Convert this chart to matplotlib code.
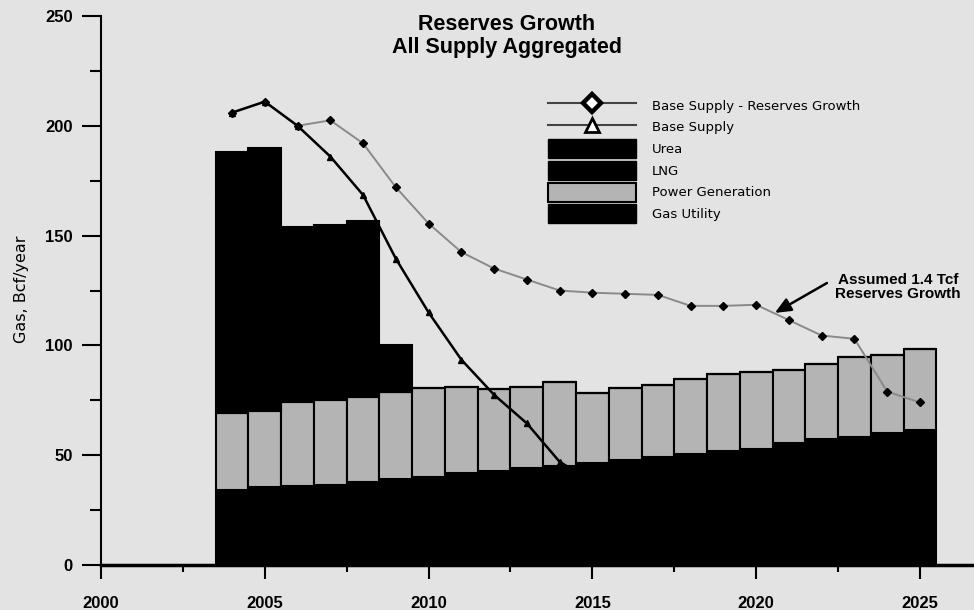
import numpy as np
import matplotlib.pyplot as plt
from matplotlib.lines import Line2D
from matplotlib.patches import Patch
from matplotlib.ticker import MultipleLocator

plt.rcParams['font.family'] = ['DejaVu Sans']

# demand by sector, Bcf/year
years = np.arange(2004, 2026)
gas_utility = [34, 35.5, 36, 36.5, 38, 39, 40, 42, 43, 44, 45, 46.5,
               48, 49, 50.5, 52, 53, 55.5, 57.5, 58.5, 60, 61.5]
power_generation = [35, 34.5, 38, 38.5, 38.5, 40, 40.5, 39, 37, 37, 38.5, 32,
                    32.5, 33, 34, 35, 35, 33.5, 34, 36, 35.5, 37]
lng = [98, 99, 59, 59, 59, 0, 0, 0, 0, 0, 0, 0,
       0, 0, 0, 0, 0, 0, 0, 0, 0, 0]
urea = [21, 21, 21, 21, 21, 21, 0, 0, 0, 0, 0, 0,
        0, 0, 0, 0, 0, 0, 0, 0, 0, 0]

# supply curves
reserves_growth = [206, 211, 200, 202.5, 192, 172, 155.5, 142.5, 135, 130, 125, 124,
                   123.5, 123, 118, 118, 118.5, 111.5, 104.5, 103, 79, 74]
base_years = np.arange(2004, 2016)
base_supply = [206, 211, 200, 186, 168.5, 139.5, 115, 93.5, 77.5, 64.5, 47, 38]

bg = "#e3e3e3"
pg_color = "#b4b4b4"

fig = plt.figure(figsize=(9.74, 6.10), dpi=100, facecolor=bg)
ax = fig.add_axes([101 / 974, 45 / 610, 873 / 974, 549 / 610], facecolor=bg)

bottom = np.zeros(len(years))
for vals, color in [(gas_utility, "black"), (power_generation, pg_color),
                    (lng, "black"), (urea, "black")]:
    ax.bar(years, vals, width=1.0, bottom=bottom, color=color,
           edgecolor="black", linewidth=1.5, zorder=2)
    bottom += np.array(vals)

ax.plot(years, reserves_growth, color="#8a8a8a", lw=1.4, marker="D", ms=4.5,
        mfc="black", mec="black", zorder=3)
ax.plot(base_years, base_supply, color="black", lw=1.8, marker="^", ms=5,
        mfc="black", mec="black", zorder=4)

# reserves growth callout
ax.annotate("", xy=(2020.57, 114.8), xytext=(2022.16, 128.4),
            arrowprops=dict(arrowstyle="-|>,head_length=0.8,head_width=0.35",
                            color="black", lw=1.8, mutation_scale=12,
                            shrinkA=0, shrinkB=0), zorder=5)
ax.text(2024.33, 126.6, "Assumed 1.4 Tcf\nReserves Growth", ha="center", va="center",
        fontsize=11, fontweight="bold", family="Liberation Sans", linespacing=1.05)

fig.text(507 / 974, 1 - 36 / 610, "Reserves Growth\nAll Supply Aggregated",
         ha="center", va="center", fontsize=15.5, fontweight="bold",
         family="Liberation Sans", linespacing=1.1)

fig.text(22 / 974, 1 - 289 / 610, "Gas, Bcf/year", rotation=90,
         ha="center", va="center", fontsize=11.5)

ax.set_xlim(2000, 2026.65)
ax.set_ylim(0, 250)
ax.xaxis.set_major_locator(MultipleLocator(5))
ax.xaxis.set_minor_locator(MultipleLocator(2.5))
ax.yaxis.set_major_locator(MultipleLocator(50))
ax.yaxis.set_minor_locator(MultipleLocator(25))

ax.tick_params(axis="y", which="major", length=14, width=1.5, pad=6.5, labelsize=12)
ax.tick_params(axis="y", which="minor", length=8, width=1.5)
ax.tick_params(axis="x", which="major", length=10, width=1.5, pad=12, labelsize=12)
ax.tick_params(axis="x", which="minor", length=5, width=1.5)
for lbl in ax.get_xticklabels() + ax.get_yticklabels():
    lbl.set_fontfamily("Liberation Sans")
    lbl.set_fontweight("bold")

for side in ["top", "right"]:
    ax.spines[side].set_visible(False)
ax.spines["left"].set_linewidth(1.5)
ax.spines["bottom"].set_linewidth(2.5)

handles = [
    Line2D([], [], color="#444444", lw=1.5, marker="D", ms=9, mfc="white",
           mec="black", mew=3.2),
    Line2D([], [], color="#444444", lw=1.5, marker="^", ms=10, mfc="white",
           mec="black", mew=2),
    Patch(facecolor="black", edgecolor="black"),
    Patch(facecolor="black", edgecolor="black"),
    Patch(facecolor=pg_color, edgecolor="black", lw=1.5),
    Patch(facecolor="black", edgecolor="black"),
]
labels = ["Base Supply - Reserves Growth", "Base Supply", "Urea", "LNG",
          "Power Generation", "Gas Utility"]
ax.legend(handles, labels, loc="upper left", bbox_to_anchor=(548 / 974, 1 - 96 / 610),
          bbox_transform=fig.transFigure, frameon=False, fontsize=9.5,
          handlelength=6.67, handleheight=1.84, labelspacing=0.2,
          handletextpad=1.2, borderpad=0, borderaxespad=0)

fig.savefig("out.png", dpi=100, facecolor=bg)
